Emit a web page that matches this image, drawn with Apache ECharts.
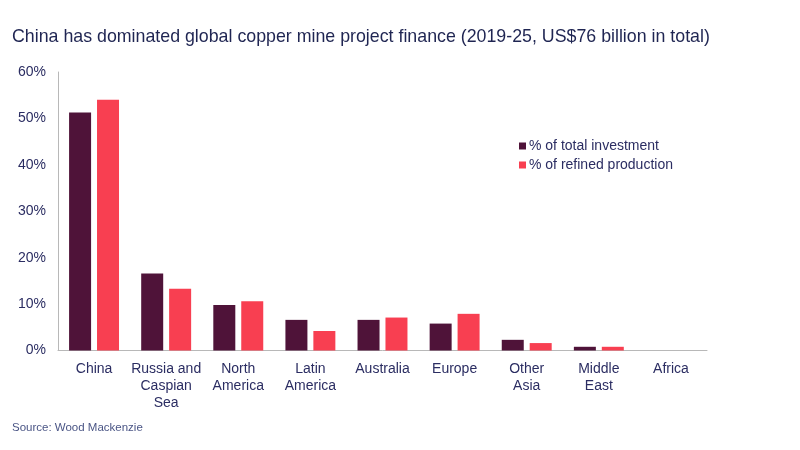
<!DOCTYPE html>
<html>
<head>
<meta charset="utf-8">
<script src="https://cdn.jsdelivr.net/npm/echarts@6/dist/echarts.min.js"></script>
<style>
html,body{margin:0;padding:0;background:#fff;}
#c{width:800px;height:450px;}
</style>
</head>
<body>
<div id="c"></div>
<script>
var categories = ['China', 'Russia and\nCaspian\nSea', 'North\nAmerica', 'Latin\nAmerica', 'Australia', 'Europe', 'Other\nAsia', 'Middle\nEast', 'Africa'];
var investment = [51.3, 16.6, 9.8, 6.6, 6.6, 5.8, 2.3, 0.8, 0];
var refined = [54.0, 13.3, 10.6, 4.2, 7.1, 7.9, 1.6, 0.8, 0];
var yTicks = [0, 10, 20, 30, 40, 50, 60];
var seriesNames = ['% of total investment', '% of refined production'];

var font = "'Liberation Sans', Arial, sans-serif";
var textColor = '#2b2d62';
var chart = echarts.init(document.getElementById('c'), null, {renderer: 'canvas'});
chart.setOption({
  backgroundColor: '#ffffff',
  animation: false,
  title: [{
    text: 'China has dominated global copper mine project finance (2019-25, US$76 billion in total)',
    left: 7, top: 23,
    textStyle: {fontFamily: font, fontSize: 17.8, fontWeight: 'normal', color: '#1f2552'}
  }, {
    text: 'Source: Wood Mackenzie',
    left: 7, top: 417,
    textStyle: {fontFamily: font, fontSize: 11.5, fontWeight: 'normal', color: '#4a5585'}
  }],
  legend: {
    orient: 'vertical',
    left: 514, top: 134,
    itemWidth: 7, itemHeight: 7, itemGap: 5,
    icon: 'rect',
    textStyle: {fontFamily: font, fontSize: 14, color: textColor, padding: [0, 0, 0, -2]},
    data: seriesNames
  },
  grid: {left: 58, right: 93, top: 72, bottom: 99.5},
  xAxis: {
    type: 'category',
    data: categories,
    axisLine: {lineStyle: {color: '#b8b8b8', width: 1}},
    axisTick: {show: false},
    axisLabel: {fontFamily: font, fontSize: 14, color: textColor, lineHeight: 17, margin: 10, interval: 0}
  },
  yAxis: {
    type: 'value',
    min: yTicks[0], max: yTicks[yTicks.length - 1], interval: 10,
    axisLine: {show: true, lineStyle: {color: '#b8b8b8', width: 1}},
    axisTick: {show: false},
    splitLine: {show: false},
    axisLabel: {fontFamily: font, fontSize: 14, color: textColor, margin: 12, formatter: '{value}%'}
  },
  series: [{
    name: seriesNames[0], type: 'bar', data: investment,
    barWidth: 22, barGap: '27%',
    itemStyle: {color: '#4f1339'}
  }, {
    name: seriesNames[1], type: 'bar', data: refined,
    barWidth: 22,
    itemStyle: {color: '#f83f51'}
  }]
});
</script>
</body>
</html>
